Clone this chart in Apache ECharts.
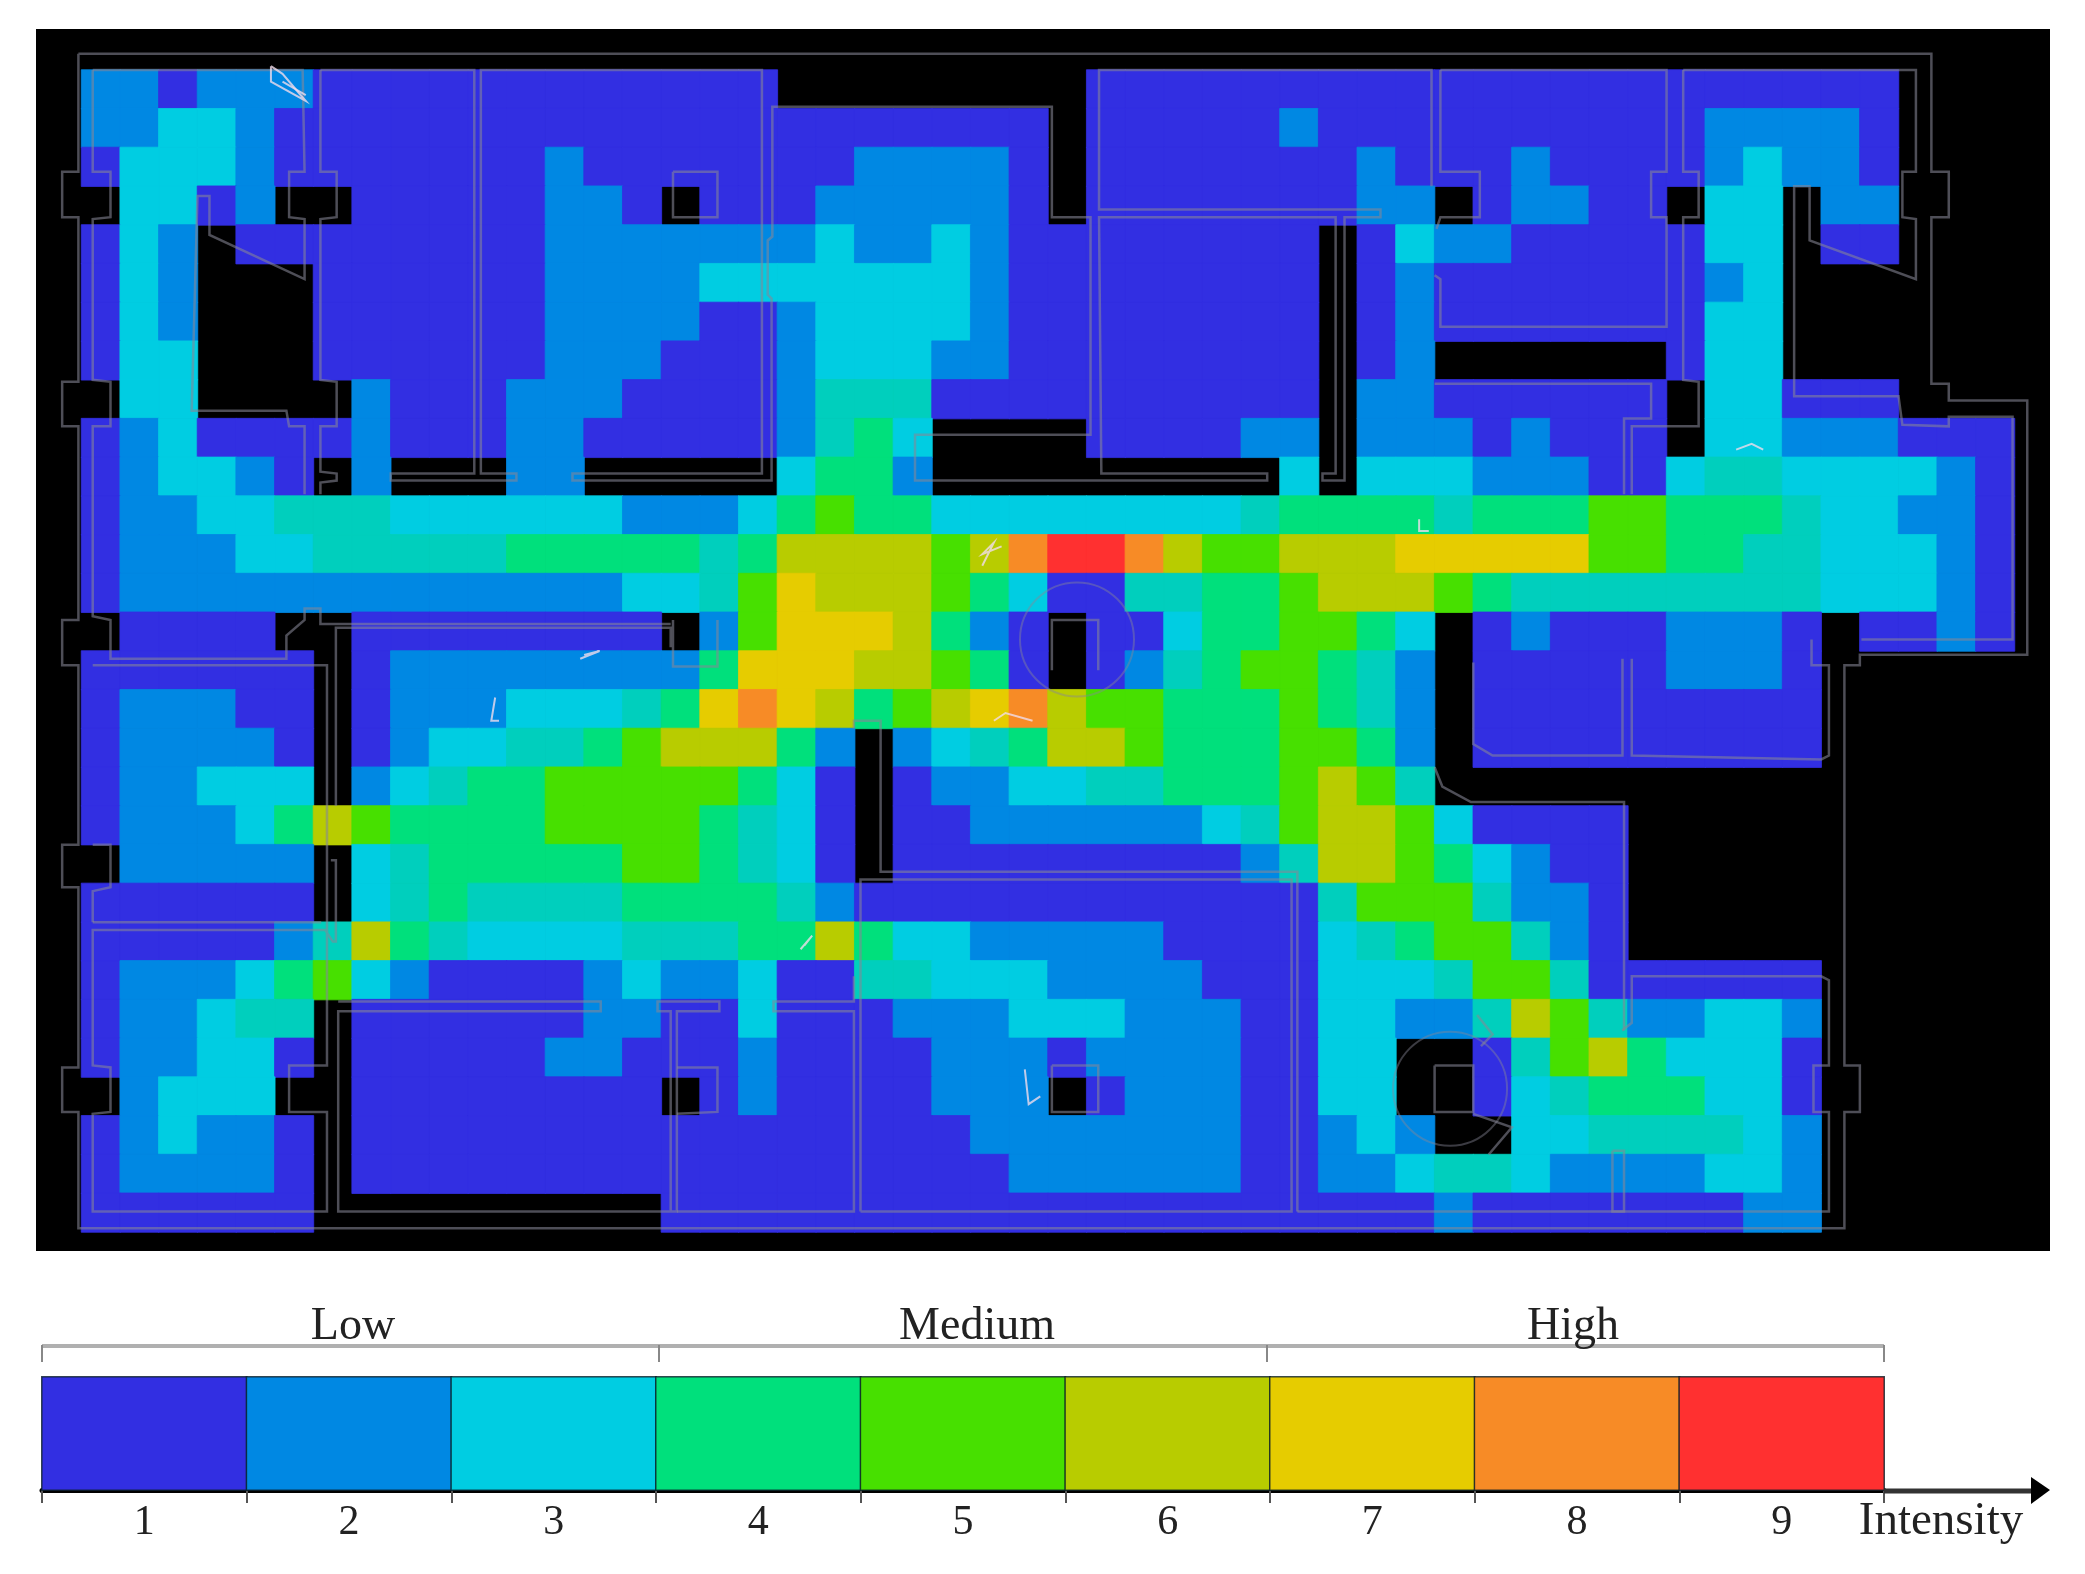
<!DOCTYPE html>
<html>
<head>
<meta charset="utf-8">
<title>Intensity map</title>
<style>
html, body { margin: 0; padding: 0; background: #fff; }
#chart { width: 2085px; height: 1574px; }
</style>
<script src="https://cdn.jsdelivr.net/npm/echarts@6/dist/echarts.min.js"></script>
</head>
<body>
<div id="chart"></div>
<script>
// intensity per cell, one string per row, "v*n" = value v repeated n times, 0 = no reading, t = the teal step
var intensityRows = [
	'2*2 1 2*3 1*12 0*8 1*21 0*3',
	'2*2 3*2 2 1*20 0 1*5 2 1*10 2*4 1 0*3',
	'1 3*3 2 1*7 2 1*7 2*4 1 0 1*7 2 1*3 2 1*4 2 3 2*2 1 0*3',
	'0 3*2 1 2 0*2 1*5 2*2 1 0 1*3 2*5 1 0 1*7 2*2 0 1 2*2 1*2 0 3*2 0 2*2 0*3',
	'1 3 2 0 1*8 2*7 3 2*2 3 2 1*8 0 1 3 2*2 1*5 3*2 0 1*2 0*3',
	'1 3 2 0*3 1*6 2*4 3*7 2 1*8 0 1 2 1*7 2 3 0*6',
	'1 3 2 0*3 1*6 2*4 1*2 2 3*4 2 1*8 0 1 2 1*7 3*2 0*6',
	'1 3*2 0*3 1*6 2*3 1*3 2 3*3 2*2 1*8 0 1 2 0*6 1 3*2 0*6',
	'0 3*2 0*4 2 1*3 2*3 1*4 2 t*3 1*10 0 2*2 1*6 0 3*2 1*3 0*3',
	'1 2 3 1*4 2 1*3 2*2 1*5 2 t 4 3 0*4 1*4 2*2 0 2*3 1 2 1*3 0 3*2 2*3 1*3',
	'1 2 3*2 2 1 0 2 0*3 2*2 0*5 3 4*2 2 0*9 3 0 3*3 2*3 1*2 3 t*2 3*4 2 1',
	'1 2*2 3*2 t*3 3*6 2*3 3 4 5 4*2 3*8 t 4*4 t 4*3 5*2 4*3 t 3*2 2*2 1',
	'1 2*3 3*2 t*5 4*5 t 4 6*4 5 6 8 9*2 8 6 5*2 6*3 7*5 5*2 4*2 t*2 3*3 2 1',
	'1 2*13 3*2 t 5 7 6*3 5 4 3 1*2 t*2 4*2 5 6*3 5 4 t*8 3*3 2 1',
	'0 1*4 0*2 1*8 0 2 5 7*3 6 4 2 1 0 1*2 3 4*2 5*2 4 3 0 1 2 1*3 2*3 1 0 1*2 2 1',
	'1*6 0 1 2*8 4 7*3 6*2 5 4 1 0 1 2 t 4 5*2 4 t 2 0 1*5 2*3 1 0*5',
	'1 2*3 1*2 0 1 2*3 3*3 t 4 7 8 7 6 4 5 6 7 8 6 5*2 4*3 5 4 t 2 0 1*9 0*5',
	'1 2*4 1 0 1 2 3*2 t*2 4 5 6*3 4 2 0 2 3 t 4 6*2 5 4*3 5*2 4 2 0 1*9 0*5',
	'1 2*2 3*3 0 2 3 t 4*2 5*5 4 3 1 0 1 2*2 3*2 t*2 4*3 5 6 5 t 0*15',
	'1 2*3 3 4 6 5 4*4 5*4 4 t 3 1 0 1*2 2*6 3 t 5 6*2 5 3 1*4 0*10',
	'0 2*5 0 3 t 4*5 5*2 4 t 3 1 0 1*9 2 t 6*2 5 4 3 2 1*2 0*10',
	'1*6 0 3 t 4 t*4 4*4 t 2 1*12 t 5*3 t 2*2 1 0*10',
	'1*5 2 t 6 4 t 3*4 t*3 4*2 6 4 3*2 2*5 1*4 3 t 4 5*2 t 2 1 0*10',
	'1 2*3 3 4 5 3 2 1*4 2 3 2*2 3 1*2 t*2 3*3 2*4 1*3 3*3 t 5*2 t 1*6 0*5',
	'1 2*2 3 t*2 0 1*6 2*2 1*2 3 1*3 2*3 3*3 2*3 1*2 3*2 2*2 t 6 5 t 2*2 3*2 2 0*5',
	'1 2*2 3*2 1 0 1*5 2*2 1*3 2 1*4 2*3 1 2*4 1*2 3*2 0*2 1 t 5 6 4 3*3 1 0*5',
	'0 2 3*3 0*2 1*8 0 1 2 1*4 2*3 0 1 2*3 1*2 3*2 0*2 1 3 t 4*3 3*2 1 0*5',
	'1 2 3 2*2 1 0 1*16 2*7 1*2 2 3 2 0*2 3*2 t*4 3 2 0*5',
	'1 2*4 1 0 1*17 2*6 1*2 2*2 3 t*2 3 2*4 3*2 2 0*5',
	'1*6 0*9 1*20 2 1*7 2*2 0*5'
];
var levelValues = [1, 2, 3, 3.5, 4, 5, 6, 7, 8, 9];
var levelColors = ['#322fe2', '#0088e3', '#00cde2', '#00cfbd', '#00e07c', '#47e000', '#b8cc00', '#e6cc00', '#f78b26', '#ff3030'];
var scaleLabels = ['1', '2', '3', '4', '5', '6', '7', '8', '9'];
var scaleValues = [1, 2, 3, 4, 5, 6, 7, 8, 9];
var bandNames = ['Low', 'Medium', 'High'];

// floor plan outlines, in cell units (column, row)
var wallPaths = [
	[[-0.08,-0.42],[47.85,-0.42],[47.85,2.63],[48.3,2.63],[48.3,3.8],[47.85,3.8],[47.85,8.1],[48.3,8.1],[48.3,8.53],[50.33,8.53],[50.33,15.1],[46,15.1],[46,15.37],[45.6,15.37],[45.6,25.7],[46,25.7],[46,26.9],[45.6,26.9],[45.6,29.9],[-0.08,29.9],[-0.08,26.9],[-0.5,26.9],[-0.5,25.75],[-0.08,25.75],[-0.08,21.1],[-0.5,21.1],[-0.5,20],[-0.08,20],[-0.08,15.37],[-0.5,15.37],[-0.5,14.2],[-0.08,14.2],[-0.08,9.2],[-0.5,9.2],[-0.5,8.05],[-0.08,8.05],[-0.08,3.8],[-0.5,3.8],[-0.5,2.63],[-0.08,2.63],[-0.08,-0.42]],
	[[0.29,0],[0.29,2.63],[0.75,2.63],[0.75,3.8],[0.29,3.85],[0.29,8],[0.75,8.05],[0.75,9.2],[0.29,9.2],[0.29,14.1],[0.75,14.2],[0.75,15.2],[5.3,15.2],[5.3,14.6],[5.77,14.2],[5.77,13.9],[6.18,13.9],[6.18,14.3],[15.24,14.3]],
	[[0.29,0],[5.72,0],[5.77,2.63],[5.37,2.63],[5.37,3.8],[5.77,3.85],[5.77,5.4],[3.31,4.26],[3.31,3.25],[3,3.25],[2.85,8.8],[5.3,8.8],[5.37,9.2],[5.77,9.2],[5.77,10.95]],
	[[6.18,0],[6.18,2.63],[6.6,2.63],[6.6,3.8],[6.18,3.85],[6.18,8],[6.6,8.05],[6.6,9.2],[6.18,9.2],[6.18,10.37],[6.6,10.42],[6.6,10.6],[6.18,10.65],[6.18,10.95]],
	[[6.18,0],[10.16,0],[10.16,10.42],[8,10.42],[8,10.6],[11.25,10.6],[11.25,10.42],[10.33,10.42],[10.33,0],[17.6,0],[17.6,10.42],[12.7,10.42],[12.7,10.6],[17.85,10.6],[17.85,5.9],[17.75,5.8],[17.75,4.4],[17.87,4.3],[17.87,0.95],[25.1,0.95],[25.1,3.8],[26.1,3.8],[26.1,9.42],[21.56,9.42],[21.56,10.6],[30.67,10.6],[30.67,10.42],[26.38,10.42],[26.32,3.8],[32.44,3.8],[32.44,10.42],[32.1,10.42],[32.1,10.6],[32.67,10.6],[32.67,3.8],[33.6,3.8],[33.6,3.6],[26.32,3.6],[26.32,0],[34.92,0],[34.92,3]],
	[[35.15,0],[35.15,2.63],[36.17,2.63],[36.17,3.8],[35.15,3.8],[35.05,4.1]],
	[[35,5.3],[35.15,5.4],[35.15,6.63],[41,6.63],[41,3.8],[40.6,3.8],[40.6,2.63],[41,2.63],[41,0],[35.15,0]],
	[[41.43,0],[41.43,2.63],[41.83,2.63],[41.83,3.8],[41.43,3.8],[41.43,8],[41.83,8.05],[41.83,9.2],[40.1,9.2],[40.1,10.95]],
	[[39.9,10.95],[39.9,9],[40.6,9],[40.6,8.1],[35,8.1]],
	[[41.43,0],[47.45,0],[47.45,2.63],[47.1,2.63],[47.1,3.8],[47.45,3.85],[47.45,5.4],[44.7,4.4],[44.7,3],[44.3,3],[44.3,8.42],[47,8.42],[47.1,9.16],[48.3,9.2],[48.3,8.95],[49.95,8.95],[49.95,14.7],[46.04,14.7]],
	[[0.29,15.37],[6.35,15.37],[6.35,25.7],[5.37,25.7],[5.37,26.9],[6.35,26.9],[6.35,29.47],[0.29,29.47],[0.29,26.95],[0.75,26.9],[0.75,25.75],[0.29,25.7],[0.29,22.2],[6.3,22.2],[6.5,22.5],[6.58,22.5],[6.58,20.4],[6.45,20.4]],
	[[0.29,22],[0.29,21.2],[0.75,21.1],[0.75,20],[0.29,20]],
	[[0.29,22],[6.2,22]],
	[[6.58,19],[6.58,14.4],[15.24,14.4],[15.24,14.9]],
	[[6.64,24.05],[13.43,24.05],[13.43,24.3],[6.64,24.3],[6.64,29.47],[15.4,29.47],[15.4,24.3],[16.5,24.3],[16.5,24.05],[14.9,24.05],[14.9,24.3],[15.24,24.3],[15.24,29.47]],
	[[15.4,25.75],[16.45,25.75],[16.45,26.9],[15.4,26.95]],
	[[15.4,29.47],[19.98,29.47],[19.98,24.3],[17.9,24.3],[17.9,24.05],[19.98,24.05],[19.98,23.4]],
	[[20.15,29.47],[20.15,20.9],[31.3,20.9],[31.3,29.47],[20.15,29.47]],
	[[31.45,29.47],[31.45,20.7],[20.67,20.7],[20.67,16.8],[19.98,16.8],[19.98,17]],
	[[31.45,29.47],[45.2,29.47],[45.2,26.9],[44.8,26.9],[44.8,25.7],[45.2,25.7],[45.2,23.5],[45,23.4],[40.1,23.4],[40.1,24.6],[39.85,24.8]],
	[[36,15.3],[36,17.4],[36.5,17.7],[39.86,17.7],[39.86,15.2]],
	[[40.1,15.2],[40.1,17.7],[45,17.8],[45.2,17.7],[45.2,15.37],[44.75,15.37],[44.75,14.7]],
	[[35,18],[35.2,18.5],[35.94,18.9],[39.9,18.9],[39.9,24.8]],
	[[39.6,27.9],[39.6,29.47],[39.9,29.47],[39.9,27.9],[39.6,27.9]],
	[[15.3,2.63],[16.45,2.63],[16.45,3.8],[15.3,3.8],[15.3,2.63]],
	[[25.1,15.5],[25.1,14.2],[26.3,14.2],[26.3,15.5]],
	[[25.1,25.7],[26.3,25.7],[26.3,26.9],[25.1,26.9],[25.1,25.7]],
	[[35,25.7],[36,25.7],[36,26.9],[35,26.9],[35,25.7]],
	[[16.45,14.2],[16.45,15.4],[15.3,15.4],[15.3,14.2]],
	[[36.2,25.2],[36.5,24.9],[36.1,24.4]],
	[[36,26.95],[37,27.3],[36.4,28]]
];
// round columns, centre in cell units
var columnCircles = [[25.75, 14.7], [35.4, 26.3]];
// small pale scribbles on the plan
var scribblePaths = [
	[[4.9,-0.1],[4.9,0.3],[5.8,0.8],[5.2,0.1],[4.9,-0.1]],
	[[5.2,0.3],[5.8,0.65]],
	[[12.9,15.2],[13.4,15],[13,15.1]],
	[[10.7,16.2],[10.6,16.8],[10.8,16.8]],
	[[23.3,12.8],[23.6,12.2],[23.3,12.5],[23.8,12.3]],
	[[23.6,16.8],[23.9,16.6],[24.6,16.8]],
	[[18.6,22.7],[18.9,22.35],[18.7,22.6]],
	[[24.4,25.8],[24.5,26.7],[24.8,26.5]],
	[[34.6,11.6],[34.6,11.9],[34.85,11.9]],
	[[42.8,9.8],[43.2,9.65],[43.5,9.8]]
];

function expandRow(text) {
	var out = [];
	text.split(' ').forEach(function(tok) {
		var p = tok.split('*');
		var n = p[1] ? +p[1] : 1;
		for (var i = 0; i < n; i++) {
			out.push(p[0] === 't' ? 3.5 : +p[0]);
		}
	});
	return out;
}
function colorOf(v) {
	return levelColors[levelValues.indexOf(v)];
}

var cols = [], rows = [], heatData = [];
intensityRows.forEach(function(text, r) {
	rows.push('r' + r);
	expandRow(text).forEach(function(v, c) {
		if (cols.length <= c) cols.push('c' + c);
		if (v > 0) { // empty cells stay black
			// stroke in the cell colour, otherwise faint seams show between neighbours
			heatData.push({ value: [c, r, v], itemStyle: { color: colorOf(v), borderColor: colorOf(v), borderWidth: 0.8 } });
		}
	});
});

var scaleData = scaleValues.map(function(v, i) {
	return { value: [i, 0, v], itemStyle: { color: colorOf(v), borderColor: 'rgba(10,30,40,0.8)', borderWidth: 1.5 } };
});

var serif = '"Liberation Serif", serif';
var bracketColor = '#b0b0b0';

var GRID = { left: 81.5, top: 70, width: 1933, height: 1162 };
var BAR = { left: 42, top: 1377, width: 1842, height: 113 };
var bandEdges = [42, 659, 1267, 1884];
var bandCentres = [353, 977, 1573];

var graphics = [{
	type: 'rect', z: -10, silent: true,
	shape: { x: 36, y: 29, width: 2014, height: 1222 },
	style: { fill: '#000' }
}, {
	type: 'line', silent: true,
	shape: { x1: bandEdges[0], y1: 1346, x2: bandEdges[3], y2: 1346 },
	style: { stroke: bracketColor, lineWidth: 4 }
}, {
	type: 'line', silent: true, z: 5,
	shape: { x1: 1884, y1: 1491, x2: 2035, y2: 1491 },
	style: { stroke: '#333', lineWidth: 5 }
}, {
	type: 'polygon', silent: true, z: 5,
	shape: { points: [[2031, 1477], [2050, 1490], [2031, 1504]] },
	style: { fill: '#000' }
}, {
	type: 'text', silent: true, x: 1941, y: 1522,
	style: { text: 'Intensity', font: '47px ' + serif, fill: '#222', textAlign: 'center', textVerticalAlign: 'middle' }
}];
bandEdges.forEach(function(x) {
	graphics.push({
		type: 'line', silent: true,
		shape: { x1: x, y1: 1345, x2: x, y2: 1362 },
		style: { stroke: '#888', lineWidth: 2 }
	});
});
bandNames.forEach(function(name, i) {
	graphics.push({
		type: 'text', silent: true, x: bandCentres[i], y: 1327,
		style: { text: name, font: '46px ' + serif, fill: '#222', textAlign: 'center', textVerticalAlign: 'middle' }
	});
});

var chart = echarts.init(document.getElementById('chart'));
chart.setOption({
	animation: false,
	backgroundColor: '#fff',
	graphic: graphics,
	grid: [
		{ left: GRID.left, top: GRID.top, width: GRID.width, height: GRID.height, show: false },
		{ left: BAR.left, top: BAR.top, width: BAR.width, height: BAR.height, show: false }
	],
	xAxis: [
		{ type: 'category', gridIndex: 0, data: cols, show: false },
		{ type: 'value', gridIndex: 0, min: 0, max: 50, show: false },
		{
			type: 'category', gridIndex: 1, data: scaleLabels, position: 'bottom',
			axisLine: { lineStyle: { color: '#000', width: 5 } },
			axisTick: { show: true, length: 13, alignWithLabel: false, lineStyle: { color: '#555', width: 2 } },
			axisLabel: { color: '#222', fontFamily: serif, fontSize: 42, margin: 12 },
			splitLine: { show: false }
		}
	],
	yAxis: [
		{ type: 'category', gridIndex: 0, data: rows, inverse: true, show: false },
		{ type: 'value', gridIndex: 0, min: 0, max: 30, inverse: true, show: false },
		{ type: 'category', gridIndex: 1, data: [''], show: false }
	],
	series: [{
		type: 'heatmap', xAxisIndex: 0, yAxisIndex: 0, data: heatData,
		emphasis: { disabled: true }
	}, {
		type: 'lines', coordinateSystem: 'cartesian2d', xAxisIndex: 1, yAxisIndex: 1,
		polyline: true, clip: false, silent: true, z: 4,
		lineStyle: { color: 'rgba(135,135,150,0.58)', width: 2.5, opacity: 1 },
		data: wallPaths.map(function(p) { return { coords: p }; })
			.concat(scribblePaths.map(function(p) {
				return { coords: p, lineStyle: { color: 'rgba(240,220,235,0.8)', width: 2 } };
			}))
	}, {
		type: 'scatter', xAxisIndex: 1, yAxisIndex: 1, silent: true, z: 4, clip: false,
		symbolSize: 114, data: columnCircles,
		itemStyle: { color: 'rgba(0,0,0,0)', borderColor: 'rgba(135,135,150,0.55)', borderWidth: 2 }
	}, {
		type: 'heatmap', xAxisIndex: 2, yAxisIndex: 2, data: scaleData,
		emphasis: { disabled: true }
	}]
});
window.onresize = function() {
	chart.resize();
};
</script>
</body>
</html>
